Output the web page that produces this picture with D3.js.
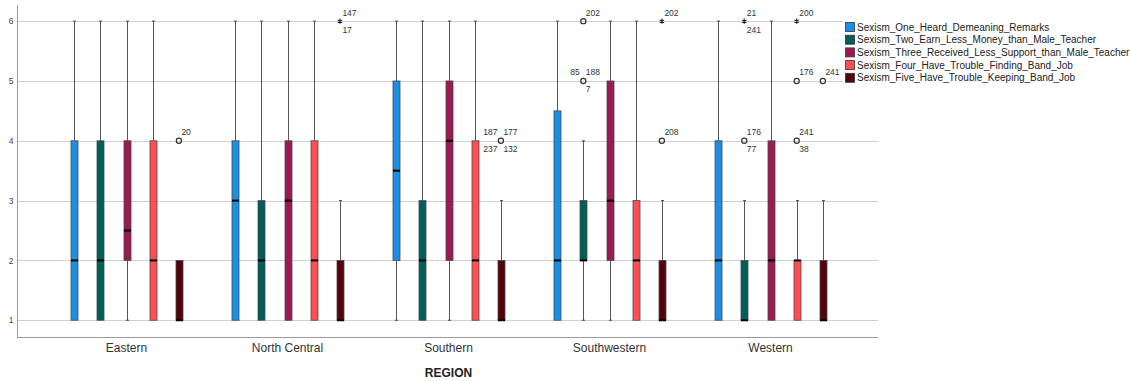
<!DOCTYPE html>
<html><head><meta charset="utf-8">
<script src="https://cdn.jsdelivr.net/npm/d3@7"></script>
<style>
html,body{margin:0;padding:0;background:#fff;}
svg{display:block;font-family:"Liberation Sans",Arial,sans-serif;}
</style></head>
<body><svg id="c" width="1130" height="381"></svg>
<script>
// ---- data ----
const regions = ["Eastern","North Central","Southern","Southwestern","Western"];
const seriesNames = [
  "Sexism_One_Heard_Demeaning_Remarks",
  "Sexism_Two_Earn_Less_Money_than_Male_Teacher",
  "Sexism_Three_Received_Less_Support_than_Male_Teacher",
  "Sexism_Four_Have_Trouble_Finding_Band_Job",
  "Sexism_Five_Have_Trouble_Keeping_Band_Job"
];
const seriesColors = ["#1a8fe6","#005f5a","#9c1a52","#ff4f55","#560009"];
const yTicks = [1,2,3,4,5,6];
// [whiskerLow, q1, median, q3, whiskerHigh] per region for each series
const statsOne   = [[1,1,2,4,6],[1,1,3,4,6],[1,2,3.5,5,6],[1,1,2,4.5,6],[1,1,2,4,6]];
const statsTwo   = [[1,1,2,4,6],[1,1,2,3,6],[1,1,2,3,6],[1,2,2,3,4],[1,1,1,2,3]];
const statsThree = [[1,2,2.5,4,6],[1,1,3,4,6],[1,2,4,5,6],[1,2,3,5,6],[1,1,2,4,6]];
const statsFour  = [[1,1,2,4,6],[1,1,2,4,6],[1,1,2,4,6],[1,1,2,3,6],[1,1,2,2,3]];
const statsFive  = [[1,1,1,2,2],[1,1,1,2,3],[1,1,1,2,3],[1,1,1,2,3],[1,1,1,2,3]];
// outliers: region, series index, value, marker, labels [text, position]
const outliers = [
  {region:"Eastern", s:4, v:4, m:"o", labels:[["20","ur"]]},
  {region:"North Central", s:4, v:6, m:"*", labels:[["147","ur"],["17","lr"]]},
  {region:"Southern", s:4, v:4, m:"o", labels:[["187","ul"],["177","ur"],["237","ll"],["132","lr"]]},
  {region:"Southwestern", s:1, v:6, m:"o", labels:[["202","ur"]]},
  {region:"Southwestern", s:1, v:5, m:"o", labels:[["85","ul"],["188","ur"],["7","lr"]]},
  {region:"Southwestern", s:4, v:6, m:"*", labels:[["202","ur"]]},
  {region:"Southwestern", s:4, v:4, m:"o", labels:[["208","ur"]]},
  {region:"Western", s:1, v:6, m:"*", labels:[["21","ur"],["241","lr"]]},
  {region:"Western", s:1, v:4, m:"o", labels:[["176","ur"],["77","lr"]]},
  {region:"Western", s:3, v:6, m:"*", labels:[["200","ur"]]},
  {region:"Western", s:3, v:5, m:"o", labels:[["176","ur"]]},
  {region:"Western", s:3, v:4, m:"o", labels:[["241","ur"],["38","lr"]]},
  {region:"Western", s:4, v:5, m:"o", labels:[["241","ur"]]}
];
const allStats = [statsOne,statsTwo,statsThree,statsFour,statsFive];

// ---- layout ----
const svg = d3.select("#c");
const plotL = 17, plotR = 878, plotT = 5, plotB = 337;
const y = d3.scaleLinear().domain([0.72, 6.27]).range([plotB, plotT]);
const x = d3.scaleBand().domain(regions).range([46, 851]);
const xs = d3.scaleBand().domain(d3.range(seriesNames.length)).range([-65.5, 65.5]);
const boxW = 7;

// gridlines
svg.append("g").selectAll("line").data(yTicks).join("line")
  .attr("x1", plotL+1).attr("x2", plotR)
  .attr("y1", d=>Math.round(y(d))+0.5).attr("y2", d=>Math.round(y(d))+0.5)
  .attr("stroke","#d0d0d0").attr("stroke-width",1);

// y axis
const yAxis = svg.append("g").attr("transform",`translate(${plotL+0.5},0)`)
  .call(d3.axisLeft(y).tickValues(yTicks).tickSize(0).tickPadding(4).tickFormat(d3.format("d")));
yAxis.select(".domain").attr("stroke","#9a9a9a").attr("d",`M0,${plotT}V${plotB}`);
yAxis.selectAll("text").attr("font-size","8.5px").attr("fill","#444").attr("font-family","Liberation Sans, Arial");

// x axis
const xAxis = svg.append("g").attr("transform",`translate(0,${plotB+0.5})`)
  .call(d3.axisBottom(x).tickSize(0).tickPadding(6));
xAxis.select(".domain").attr("stroke","#9a9a9a").attr("stroke-width",1.2).attr("d",`M${plotL},0H${plotR}`);
xAxis.selectAll("text").attr("font-size","12px").attr("fill","#333").attr("font-family","Liberation Sans, Arial");

svg.append("text").attr("x", x("Southern")+x.bandwidth()/2).attr("y", 377)
  .attr("text-anchor","middle").attr("font-size","12px").attr("font-weight","bold").attr("fill","#222")
  .text("REGION");

// boxes
const cx = (r,s) => x(r) + x.bandwidth()/2 + xs(s) + xs.bandwidth()/2;
const gBoxes = svg.append("g");
allStats.forEach((st, s) => {
  regions.forEach((r, ri) => {
    const [lo,q1,md,q3,hi] = st[ri];
    const c = Math.round(cx(r,s)) + 0.5;
    const g = gBoxes.append("g");
    if (hi > q3) {
      g.append("line").attr("x1",c).attr("x2",c).attr("y1",y(q3)).attr("y2",y(hi)).attr("stroke","#555").attr("stroke-width",1);
      g.append("line").attr("x1",c-1.5).attr("x2",c+1.5).attr("y1",y(hi)).attr("y2",y(hi)).attr("stroke","#444").attr("stroke-width",1);
    }
    if (lo < q1) {
      g.append("line").attr("x1",c).attr("x2",c).attr("y1",y(lo)).attr("y2",y(q1)).attr("stroke","#555").attr("stroke-width",1);
      g.append("line").attr("x1",c-1.5).attr("x2",c+1.5).attr("y1",y(lo)).attr("y2",y(lo)).attr("stroke","#444").attr("stroke-width",1);
    }
    g.append("rect").attr("x",c-boxW/2).attr("width",boxW)
      .attr("y",y(q3)).attr("height",y(q1)-y(q3))
      .attr("fill",seriesColors[s]).attr("stroke","#4a4a4a").attr("stroke-width",0.8);
    g.append("line").attr("x1",c-boxW/2).attr("x2",c+boxW/2).attr("y1",y(md)).attr("y2",y(md))
      .attr("stroke","#000").attr("stroke-width",2);
  });
});

// outliers
const gOut = svg.append("g");
const lblPos = {ur:[2.5,-5.5,"start"], ul:[-3.5,-5.5,"end"], lr:[2.5,11.5,"start"], ll:[-3.5,11.5,"end"]};
outliers.forEach(o => {
  const c = cx(o.region, o.s), yy = y(o.v);
  if (o.m === "o") {
    gOut.append("circle").attr("cx",c).attr("cy",yy).attr("r",2.6)
      .attr("fill","none").attr("stroke","#333").attr("stroke-width",1.2);
  } else {
    const a = 2.6;
    const p = d3.path();
    for (let k=0;k<3;k++){
      const ang = Math.PI/2 + k*Math.PI/3;
      p.moveTo(c+a*Math.cos(ang), yy+a*Math.sin(ang));
      p.lineTo(c-a*Math.cos(ang), yy-a*Math.sin(ang));
    }
    gOut.append("path").attr("d",p.toString()).attr("stroke","#222").attr("stroke-width",1.1).attr("fill","none");
  }
  o.labels.forEach(([t,pos]) => {
    const [dx,dy,anc] = lblPos[pos];
    gOut.append("text").attr("x",c+dx).attr("y",yy+dy).attr("text-anchor",anc)
      .attr("font-size","8.5px").attr("fill","#333").text(t);
  });
});

// legend
const lg = svg.append("g");
lg.append("rect").attr("x",843).attr("y",15).attr("width",287).attr("height",70).attr("fill","#fff");
seriesNames.forEach((n,i) => {
  const ry = 22 + i*12.7;
  lg.append("rect").attr("x",845.5).attr("y",ry+0.5).attr("width",9).attr("height",9)
    .attr("fill",seriesColors[i]).attr("stroke","#333").attr("stroke-width",0.8);
  lg.append("text").attr("x",857).attr("y",ry+8.5).attr("font-size","10px").attr("fill","#222").text(n);
});
</script></body></html>
